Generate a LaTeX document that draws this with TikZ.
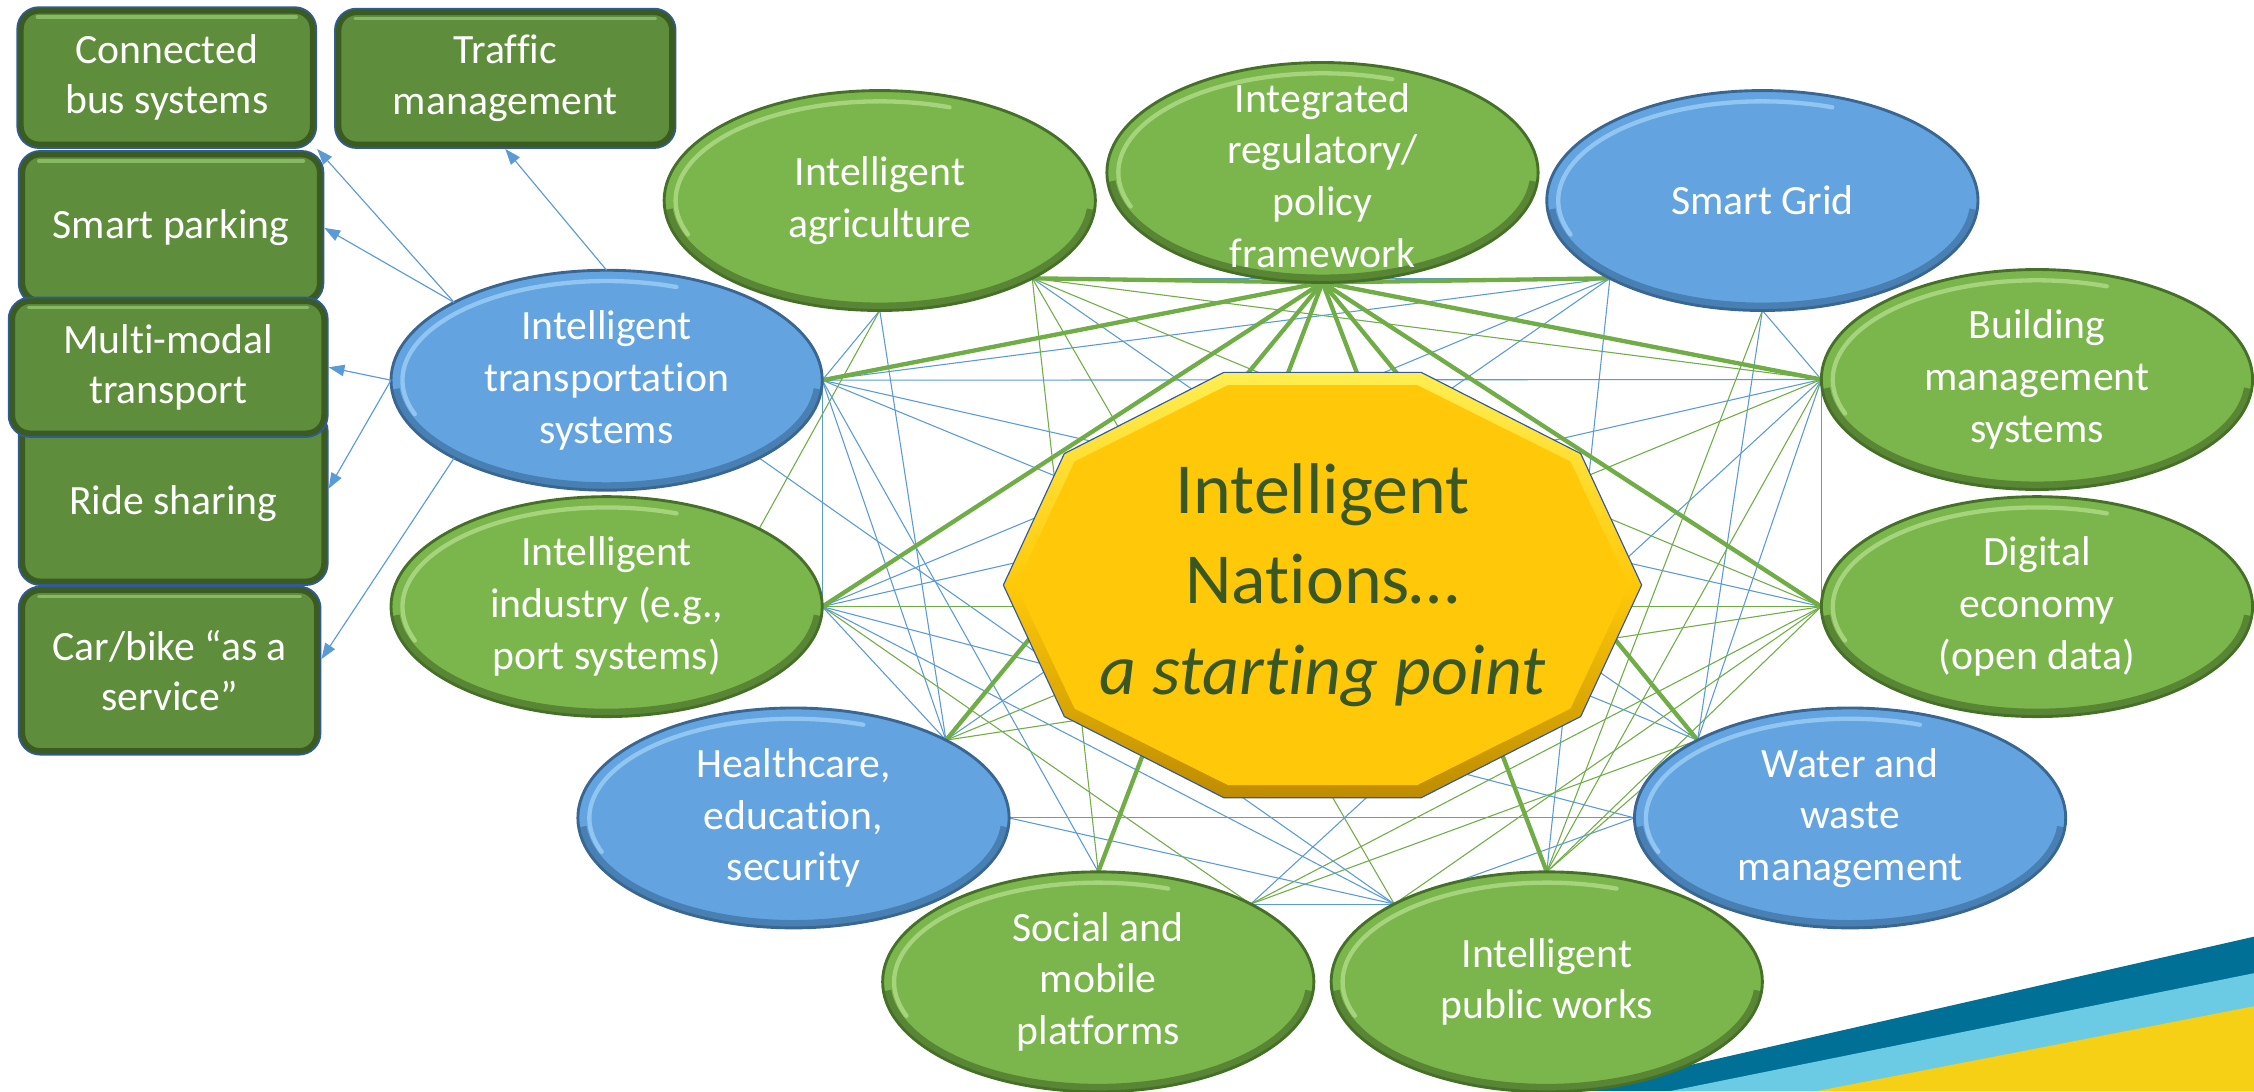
\documentclass[tikz,border=0pt]{standalone}
\usepackage{fontspec}
\setmainfont{Carlito}[Ligatures={NoCommon}]
\usetikzlibrary{shapes.geometric,arrows.meta,calc}
\definecolor{gfill}{RGB}{122,182,76}
\definecolor{grim}{RGB}{70,112,40}
\definecolor{gdark}{RGB}{88,134,52}
\definecolor{glight}{RGB}{165,212,125}
\definecolor{bfill}{RGB}{99,164,224}
\definecolor{brim}{RGB}{58,102,146}
\definecolor{bdark}{RGB}{72,128,180}
\definecolor{blight}{RGB}{145,198,242}
\definecolor{boxfill}{RGB}{94,141,59}
\definecolor{boxdark}{RGB}{58,92,34}
\definecolor{boxlight}{RGB}{135,185,100}
\definecolor{boxline}{RGB}{50,90,150}
\definecolor{gold}{RGB}{255,201,10}
\definecolor{golddark}{RGB}{190,140,0}
\definecolor{goldlight}{RGB}{255,238,80}
\definecolor{navy}{RGB}{50,90,150}
\definecolor{cblue}{RGB}{91,155,213}
\definecolor{cgreen}{RGB}{112,173,71}
\definecolor{ntext}{RGB}{56,87,35}
\definecolor{stripeA}{RGB}{0,112,150}
\definecolor{stripeB}{RGB}{108,203,228}
\definecolor{stripeC}{RGB}{245,208,20}
\pgfdeclarelayer{bg}
\pgfsetlayers{bg,main}
\tikzset{
  ell/.style={ellipse, minimum width=300pt, minimum height=153pt, inner sep=0pt, outer sep=0pt, line width=2pt},
  gell/.style={ell, fill=gfill, draw=grim, path picture={
     \draw[gdark, line width=11pt] ($(path picture bounding box.center)+(185:150pt and 76.5pt)$) arc[start angle=185, end angle=355, x radius=150pt, y radius=76.5pt];
     \draw[glight, line width=3pt, line cap=round] ($(path picture bounding box.center)+(200:142pt and 69pt)$) arc[start angle=200, end angle=70, x radius=142pt, y radius=69pt];}},
  bell/.style={ell, fill=bfill, draw=brim, path picture={
     \draw[bdark, line width=11pt] ($(path picture bounding box.center)+(185:150pt and 76.5pt)$) arc[start angle=185, end angle=355, x radius=150pt, y radius=76.5pt];
     \draw[blight, line width=3pt, line cap=round] ($(path picture bounding box.center)+(200:142pt and 69pt)$) arc[start angle=200, end angle=70, x radius=142pt, y radius=69pt];}},
  etext/.style={text=white, align=center, font=\fontsize{29}{36}\selectfont, inner sep=0pt},
  boxst/.style={rectangle, rounded corners=15pt, fill=boxfill, draw=boxline, line width=1.2pt, inner sep=0pt,
     text=white, align=center, font=\fontsize{29}{35}\selectfont,
     path picture={
       \draw[boxdark, line width=9pt, rounded corners=15pt] (path picture bounding box.south west) rectangle (path picture bounding box.north east);
       \draw[boxlight, line width=2.5pt, line cap=round] ([shift={(14pt,-7pt)}]path picture bounding box.north west) -- ([shift={(-14pt,-7pt)}]path picture bounding box.north east);}},
  arr/.style={cblue, line width=0.8pt, -{Triangle[length=11pt,width=8pt]}},
  tb/.style={cblue, line width=0.75pt},
  tg/.style={cgreen, line width=0.75pt},
  tk/.style={cgreen, line width=3pt},
}
\begin{document}
\begin{tikzpicture}[x=1pt,y=1pt]
\useasboundingbox (0,0) rectangle (1568,-759);

% left boxes
\node[boxst, minimum width=208pt, minimum height=98pt] (bus) at (116,-54) {Connected\\bus systems};
\node[boxst, minimum width=237pt, minimum height=97pt] (traf) at (351.5,-54.5) {Traffic\\management};
\node[boxst, minimum width=212pt, minimum height=107pt] (park) at (119,-158.5) {Smart parking};
\node[boxst, minimum width=215pt, minimum height=122pt] (ride) at (120.5,-346) {};
\node[etext, font=\fontsize{29}{35}\selectfont] (rideT) at (120.5,-350) {Ride sharing};
\node[boxst, minimum width=222pt, minimum height=97pt] (mm) at (117,-255.5) {Multi-modal\\transport};
\node[boxst, minimum width=210pt, minimum height=117pt] (car) at (118,-466.5) {Car/bike “as a\\service”};

% ellipses
\node[gell] (agr) at (612,-139.5) {};
\node[gell] (pol) at (920,-120) {};
\node[bell] (sg)  at (1226,-139.5) {};
\node[gell] (bms) at (1417,-264) {};
\node[gell] (dig) at (1417,-422) {};
\node[bell] (ww)  at (1287,-569) {};
\node[gell] (pw)  at (1076,-683) {};
\node[gell] (soc) at (764,-683) {};
\node[bell] (hc)  at (552,-569) {};
\node[gell] (ind) at (422,-422) {};
\node[bell] (its) at (422,-264.5) {};

\node[etext] (agrT) at (agr) {Intelligent\\agriculture};
\node[etext] (polT) at ([yshift=-2pt]pol.center) {Integrated\\regulatory/\\policy\\framework};
\node[etext] (sgT)  at (sg) {Smart Grid};
\node[etext] (bmsT) at (bms) {Building\\management\\systems};
\node[etext] (digT) at (dig) {Digital\\economy\\(open data)};
\node[etext] (wwT)  at (ww) {Water and\\waste\\management};
\node[etext] (pwT)  at (pw) {Intelligent\\public works};
\node[etext] (socT) at (soc) {Social and\\mobile\\platforms};
\node[etext] (hcT)  at (hc) {Healthcare,\\education,\\security};
\node[etext] (indT) at (ind) {Intelligent\\industry (e.g.,\\port systems)};
\node[etext] (itsT) at (its) {Intelligent\\transportation\\systems};

% central decagon
\begin{scope}[shift={(920,-407)}]
\shade[top color=goldlight, bottom color=golddark, middle color=gold] (0:222 and 155.6) -- (36:222 and 155.6) -- (72:222 and 155.6) -- (108:222 and 155.6) -- (144:222 and 155.6) -- (180:222 and 155.6) -- (216:222 and 155.6) -- (252:222 and 155.6) -- (288:222 and 155.6) -- (324:222 and 155.6) -- cycle;
\begin{scope}[xscale=0.96, yscale=0.94]
\fill[gold] (0:222 and 155.6) -- (36:222 and 155.6) -- (72:222 and 155.6) -- (108:222 and 155.6) -- (144:222 and 155.6) -- (180:222 and 155.6) -- (216:222 and 155.6) -- (252:222 and 155.6) -- (288:222 and 155.6) -- (324:222 and 155.6) -- cycle;
\end{scope}
\draw[navy, line width=0.8pt] (0:222 and 155.6) -- (36:222 and 155.6) -- (72:222 and 155.6) -- (108:222 and 155.6) -- (144:222 and 155.6) -- (180:222 and 155.6) -- (216:222 and 155.6) -- (252:222 and 155.6) -- (288:222 and 155.6) -- (324:222 and 155.6) -- cycle;
\end{scope}
\node[text=ntext, align=center, font=\fontsize{50}{63}\selectfont, inner sep=0pt] (core) at (920,-407) {Intelligent\\Nations…\\\textit{a starting point}};

% arrows to the transport boxes
\draw[arr] (its.north west) -- (bus.south east);
\draw[arr] (its.north west) -- (park.east);
\draw[arr] (its.north) -- (traf.south);
\draw[arr] (its.west) -- (mm.east);
\draw[arr] (its.west) -- ([yshift=6pt]ride.east);
\draw[arr] (its.south west) -- ([yshift=8pt]car.east);

\begin{pgfonlayer}{bg}
% decorative stripes
\fill[stripeA] (1096,-759) -- (1568,-651.6) -- (1568,-759) -- cycle;
\fill[stripeB] (1162,-759) -- (1568,-677) -- (1568,-759) -- cycle;
\fill[stripeC] (1264,-759) -- (1568,-700) -- (1568,-759) -- cycle;
% thin connectors
\foreach \a/\b/\c in {
 its.east/sg.south west/tb, its.east/bms.west/tb, its.east/ind.east/tb, its.east/hc.north east/tb,
 its.east/dig.west/tb, its.east/ww.north west/tb, its.east/soc.north/tb, its.south east/pw.north west/tb,
 agr.south/its.east/tb, agr.south/ind.north east/tg, agr.south/hc.north east/tb,
 agr.south east/sg.south west/tb, agr.south east/bms.west/tg, agr.south east/dig.west/tg,
 agr.south east/soc.north/tg, agr.south east/pw.north west/tg, agr.south east/ww.north west/tb,
 sg.south west/ind.east/tb, sg.south west/hc.north east/tb, sg.south west/pw.north/tb,
 sg.south/ww.north west/tb, sg.south/bms.west/tb, sg.south/pw.north/tg,
 bms.west/ind.east/tb, bms.west/hc.north east/tg, bms.west/soc.north east/tb, bms.west/dig.west/tg,
 bms.west/pw.north/tg, bms.west/ww.north west/tb,
 dig.west/ind.east/tg, dig.west/hc.north east/tg, dig.west/soc.north east/tg, dig.west/pw.north/tg,
 dig.west/pw.north west/tg,
 ww.west/hc.east/tb, ww.west/ind.east/tb, ww.west/pw.north west/tb, ww.north west/pw.north/tg,
 ww.north west/soc.north east/tg,
 hc.east/pw.north west/tb, soc.north east/pw.north west/tb, ind.east/pw.north west/tb,
 ind.east/soc.north east/tg, ind.east/hc.north east/tb}
 \draw[\c] (\a) -- (\b);
% thick connectors from the policy framework
\foreach \b in {agr.south east,sg.south west,its.east,ind.east,hc.north east,soc.north,pw.north,ww.north west,dig.west,bms.west}
 \draw[tk] (pol.south) -- (\b);
\end{pgfonlayer}
\end{tikzpicture}
\end{document}
